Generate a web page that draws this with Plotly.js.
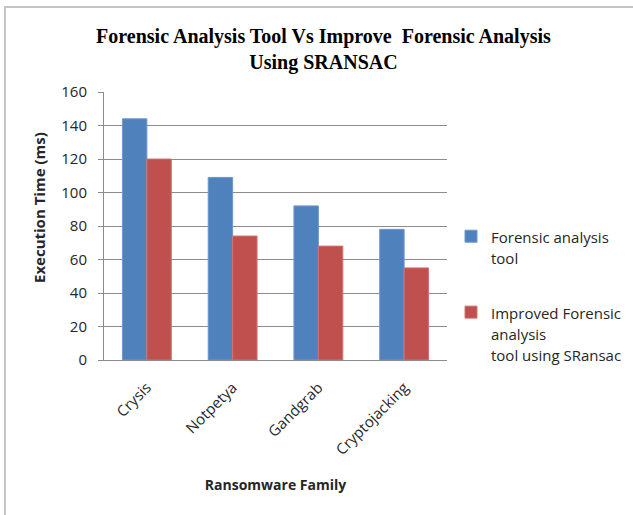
<!DOCTYPE html>
<html>
<head>
<meta charset="utf-8">
<script src="https://cdn.plot.ly/plotly-3.0.1.min.js"></script>
<style>
  html, body { margin: 0; padding: 0; background: #ffffff; }
  #wrap { position: relative; width: 633px; height: 515px; overflow: hidden; }
  #chart { position: absolute; left: 0; top: 0; width: 633px; height: 515px; }
  #frame { position: absolute; left: 4px; top: 6px; width: 700px; height: 600px;
           border-left: 2px solid #c4c4c4; border-top: 2px solid #c4c4c4; pointer-events: none; }
</style>
</head>
<body>
<div id="wrap">
  <div id="chart"></div>
  <div id="frame"></div>
</div>
<script>
// Ransomware families on the category axis
const families = ['Crysis', 'Notpetya', 'Gandgrab', 'Cryptojacking'];

// Execution time (ms) of each tool per family
const forensicTool = [144, 109, 92, 78];
const improvedTool = [120, 74, 68, 55];

// Legend labels (split across lines)
const legendNames = [
  'Forensic analysis<br>tool',
  'Improved Forensic<br>analysis<br>tool using SRansac'
];

const yTicks = [0, 20, 40, 60, 80, 100, 120, 140, 160];

// Legend lines use a tall line height with smaller glyphs
function smallText(s) {
  return s.split('<br>').map(function (p) {
    return '<span style="font-size:15px">' + p + '</span>';
  }).join('<br>');
}

const traces = [
  {
    type: 'bar', x: families, y: forensicTool, name: smallText(legendNames[0]),
    legendgroup: 'a',
    marker: { color: '#4f81bd', line: { color: '#6f97cc', width: 1 } }
  },
  {
    type: 'bar', x: families, y: improvedTool, name: smallText(legendNames[1]),
    legendgroup: 'b',
    marker: { color: '#c0504d', line: { color: '#d07471', width: 1 } }
  }
];

const plotL = 104, plotW = 343, plotT = 92, plotH = 268;

const layout = {
  width: 633, height: 515,
  margin: { l: plotL, r: 633 - plotL - plotW, t: plotT, b: 515 - plotT - plotH, autoexpand: false },
  paper_bgcolor: '#ffffff', plot_bgcolor: '#ffffff',
  barmode: 'group', bargap: 0.43, bargroupgap: 0,
  font: { family: '"Open Sans", sans-serif', color: '#262626' },
  title: {
    text: 'Forensic Analysis Tool Vs Improve \u00a0Forensic Analysis<br>Using SRANSAC',
    font: { family: '"Liberation Serif", "Times New Roman", serif', size: 20, color: '#000000', weight: 'bold' },
    x: 0.511, xref: 'container', xanchor: 'center',
    y: 1 - 43 / 515, yref: 'container', yanchor: 'top'
  },
  xaxis: {
    type: 'category',
    tickangle: -45,
    tickfont: { size: 15, color: '#262626' },
    ticklabelstandoff: 12,
    showline: true, linecolor: '#8c8c8c', linewidth: 1,
    showgrid: false, ticks: '', ticklen: 0,
    title: { text: 'Ransomware Family', font: { size: 14, color: '#262626', weight: 'bold' }, standoff: 22 }
  },
  yaxis: {
    range: [0, 160], tickvals: yTicks, ticktext: yTicks.map(String),
    tickfont: { size: 15, color: '#262626' },
    ticklabelstandoff: 8,
    showline: true, linecolor: '#8c8c8c', linewidth: 1,
    ticks: 'outside', ticklen: 5, tickcolor: '#8c8c8c',
    showgrid: true, gridcolor: '#8c8c8c', gridwidth: 1,
    zeroline: false
  },
  annotations: [
    {
      text: 'Execution Time (ms)', textangle: -90, showarrow: false,
      xref: 'paper', yref: 'paper',
      x: (39 - plotL) / plotW, y: (plotT + plotH - 208) / plotH,
      xanchor: 'center', yanchor: 'middle',
      font: { size: 15, color: '#262626', weight: 'bold' }
    }
  ],
  showlegend: true,
  legend: {
    x: (451 - plotL) / plotW, xanchor: 'left',
    y: (plotT + plotH - 219) / plotH, yanchor: 'top',
    xref: 'paper', yref: 'paper',
    font: { size: 16.5, color: '#262626' },
    valign: 'top',
    traceorder: 'grouped', tracegroupgap: 30,
    bgcolor: 'rgba(0,0,0,0)'
  }
};

Plotly.newPlot('chart', traces, layout, { displayModeBar: false, staticPlot: true });
</script>
</body>
</html>
